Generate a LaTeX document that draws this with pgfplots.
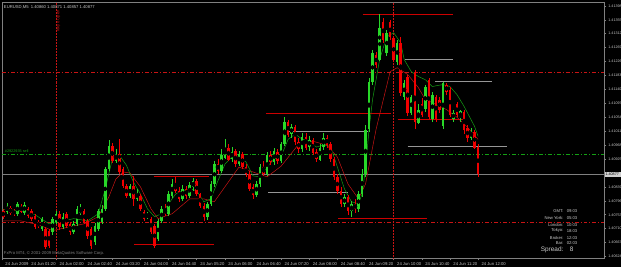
\documentclass[border=0pt]{standalone}
\usepackage{pgfplots}
\pgfplotsset{compat=1.18}
\usepackage{pgfplotstable}
\usepackage{fontspec}
\setmainfont{Liberation Sans}
\definecolor{bull}{RGB}{40,215,40}
\definecolor{bear}{RGB}{240,0,0}
\definecolor{ma1}{RGB}{20,160,20}
\definecolor{ma2}{RGB}{200,20,20}
\definecolor{frame}{RGB}{128,128,128}
\definecolor{txt}{RGB}{200,200,200}
\definecolor{seg}{RGB}{150,150,150}
\pgfplotstableread{
t o h l c
40 1.40753 1.40774 1.40747 1.40765
45 1.40765 1.40771 1.40741 1.40747
50 1.40762 1.40790 1.40756 1.40781
55 1.40774 1.40781 1.40753 1.40759
60 1.40765 1.40771 1.40750 1.40756
65 1.40756 1.40793 1.40750 1.40787
70 1.40781 1.40787 1.40759 1.40762
75 1.40759 1.40793 1.40753 1.40784
80 1.40771 1.40777 1.40744 1.40750
85 1.40765 1.40771 1.40734 1.40741
90 1.40750 1.40756 1.40710 1.40716
95 1.40731 1.40738 1.40713 1.40719
100 1.40710 1.40747 1.40704 1.40741
105 1.40710 1.40716 1.40648 1.40655
110 1.40704 1.40710 1.40652 1.40658
115 1.40701 1.40747 1.40691 1.40741
120 1.40731 1.40765 1.40725 1.40756
125 1.40756 1.40765 1.40707 1.40716
130 1.40716 1.40759 1.40710 1.40747
135 1.40756 1.40762 1.40713 1.40719
140 1.40725 1.40731 1.40691 1.40701
145 1.40701 1.40734 1.40695 1.40725
150 1.40725 1.40781 1.40719 1.40771
155 1.40759 1.40787 1.40753 1.40771
160 1.40765 1.40771 1.40725 1.40731
165 1.40734 1.40741 1.40679 1.40688
170 1.40710 1.40716 1.40648 1.40658
175 1.40670 1.40728 1.40661 1.40719
180 1.40710 1.40771 1.40704 1.40765
185 1.40731 1.40784 1.40725 1.40771
190 1.40771 1.40900 1.40765 1.40894
195 1.40894 1.40986 1.40888 1.40965
200 1.40965 1.40977 1.40913 1.40919
205 1.40919 1.40956 1.40913 1.40940
210 1.40940 1.40986 1.40879 1.40885
215 1.40894 1.40900 1.40836 1.40842
220 1.40842 1.40848 1.40805 1.40811
225 1.40811 1.40848 1.40805 1.40842
230 1.40842 1.40873 1.40781 1.40802
235 1.40802 1.40833 1.40796 1.40823
240 1.40811 1.40817 1.40765 1.40771
245 1.40762 1.40768 1.40734 1.40741
250 1.40747 1.40762 1.40741 1.40756
255 1.40741 1.40747 1.40695 1.40701
260 1.40719 1.40725 1.40652 1.40658
265 1.40679 1.40741 1.40673 1.40734
270 1.40734 1.40781 1.40728 1.40771
275 1.40771 1.40787 1.40750 1.40756
280 1.40756 1.40827 1.40750 1.40817
285 1.40811 1.40863 1.40805 1.40848
290 1.40848 1.40870 1.40820 1.40827
295 1.40827 1.40839 1.40793 1.40802
300 1.40802 1.40845 1.40796 1.40833
305 1.40833 1.40842 1.40802 1.40811
310 1.40811 1.40854 1.40805 1.40845
315 1.40839 1.40866 1.40827 1.40857
320 1.40857 1.40863 1.40811 1.40817
325 1.40817 1.40823 1.40774 1.40781
330 1.40781 1.40790 1.40734 1.40747
335 1.40747 1.40793 1.40738 1.40787
340 1.40787 1.40857 1.40781 1.40848
345 1.40848 1.40919 1.40839 1.40909
350 1.40909 1.40925 1.40879 1.40888
355 1.40888 1.40956 1.40882 1.40940
360 1.40931 1.40986 1.40925 1.40962
365 1.40962 1.40971 1.40919 1.40925
370 1.40925 1.40962 1.40916 1.40949
375 1.40949 1.40956 1.40900 1.40909
380 1.40909 1.40949 1.40903 1.40940
385 1.40940 1.40946 1.40894 1.40900
390 1.40900 1.40909 1.40870 1.40879
395 1.40879 1.40888 1.40827 1.40833
400 1.40839 1.40848 1.40802 1.40814
405 1.40814 1.40857 1.40808 1.40848
410 1.40848 1.40909 1.40839 1.40900
415 1.40900 1.40919 1.40873 1.40879
420 1.40879 1.40946 1.40873 1.40937
425 1.40937 1.40949 1.40906 1.40916
430 1.40916 1.40959 1.40909 1.40949
435 1.40949 1.40956 1.40909 1.40919
440 1.40919 1.40980 1.40913 1.40971
445 1.40971 1.41057 1.40965 1.41041
450 1.41041 1.41048 1.40995 1.41002
455 1.41002 1.41035 1.40992 1.41026
460 1.41026 1.41032 1.40971 1.40980
465 1.40980 1.40992 1.40946 1.40956
470 1.40956 1.41005 1.40949 1.40995
475 1.40995 1.41008 1.40956 1.40962
480 1.40962 1.40998 1.40952 1.40986
485 1.40986 1.40992 1.40937 1.40946
490 1.40946 1.40956 1.40916 1.40925
495 1.40925 1.40971 1.40919 1.40962
500 1.40962 1.41008 1.40956 1.40992
505 1.40992 1.41002 1.40962 1.40971
510 1.40971 1.40980 1.40916 1.40925
515 1.40925 1.40931 1.40860 1.40870
520 1.40870 1.40879 1.40817 1.40827
525 1.40827 1.40839 1.40777 1.40787
530 1.40787 1.40817 1.40777 1.40808
535 1.40808 1.40814 1.40753 1.40765
540 1.40765 1.40796 1.40747 1.40787
545 1.40787 1.40802 1.40759 1.40771
550 1.40771 1.40827 1.40762 1.40817
555 1.40817 1.40894 1.40808 1.40879
560 1.40879 1.41032 1.40870 1.41017
565 1.41017 1.41177 1.41011 1.41164
570 1.41164 1.41262 1.41155 1.41253
575 1.41247 1.41256 1.41207 1.41216
580 1.41232 1.41373 1.41226 1.41330
585 1.41348 1.41361 1.41284 1.41293
590 1.41253 1.41324 1.41244 1.41315
595 1.41348 1.41355 1.41293 1.41302
600 1.41299 1.41305 1.41226 1.41232
605 1.41226 1.41293 1.41216 1.41284
610 1.41284 1.41302 1.41121 1.41130
615 1.41118 1.41170 1.41109 1.41161
620 1.41180 1.41186 1.41057 1.41069
625 1.41069 1.41124 1.41060 1.41118
630 1.41192 1.41201 1.41017 1.41038
635 1.41038 1.41094 1.41032 1.41078
640 1.41094 1.41115 1.41054 1.41063
645 1.41078 1.41155 1.41072 1.41146
650 1.41170 1.41177 1.41048 1.41054
655 1.41048 1.41134 1.41041 1.41124
660 1.41118 1.41124 1.41041 1.41048
665 1.41109 1.41118 1.41069 1.41078
670 1.41026 1.41164 1.41017 1.41161
675 1.41155 1.41161 1.41124 1.41134
680 1.41140 1.41146 1.41054 1.41063
685 1.41048 1.41078 1.41041 1.41069
690 1.41094 1.41100 1.41054 1.41063
695 1.41054 1.41078 1.41041 1.41072
700 1.41072 1.41078 1.41002 1.41017
705 1.41023 1.41032 1.40980 1.40992
710 1.40992 1.41023 1.40986 1.41011
715 1.41011 1.41017 1.40956 1.40962
720 1.40962 1.40971 1.40870 1.40877
}\candles
\pgfplotstableread{
t v
40 1.40771
70 1.40765
90 1.40753
110 1.40725
125 1.40731
145 1.40741
165 1.40734
180 1.40756
190 1.40833
200 1.40925
210 1.40937
220 1.40906
230 1.40854
240 1.40817
250 1.40771
260 1.40747
270 1.40756
280 1.40787
290 1.40817
300 1.40827
310 1.40833
320 1.40827
330 1.40793
340 1.40802
350 1.40857
360 1.40909
370 1.40931
380 1.40931
390 1.40916
400 1.40873
410 1.40870
420 1.40900
430 1.40925
440 1.40934
450 1.40986
460 1.41002
470 1.40986
480 1.40980
490 1.40962
500 1.40968
510 1.40965
520 1.40900
530 1.40833
540 1.40793
550 1.40787
555 1.40817
560 1.40894
565 1.41017
570 1.41109
580 1.41232
590 1.41302
600 1.41315
610 1.41284
615 1.41232
625 1.41195
635 1.41180
645 1.41170
655 1.41149
670 1.41155
680 1.41149
690 1.41124
700 1.41088
715 1.41026
720 1.40995
}\fastma
\pgfplotstableread{
t v
40 1.40734
70 1.40734
95 1.40722
115 1.40704
140 1.40716
160 1.40725
180 1.40747
195 1.40808
205 1.40863
215 1.40885
225 1.40882
240 1.40839
255 1.40771
265 1.40741
285 1.40756
310 1.40802
330 1.40802
345 1.40793
360 1.40839
380 1.40900
400 1.40885
420 1.40870
440 1.40903
465 1.40971
485 1.40980
505 1.40968
520 1.40931
535 1.40848
550 1.40802
560 1.40848
575 1.41017
595 1.41195
605 1.41207
620 1.41186
635 1.41146
645 1.41109
660 1.41094
675 1.41078
690 1.41054
705 1.41023
720 1.40986
}\slowma
\begin{document}
\begin{tikzpicture}[x=1pt,y=1pt]
\fill[black] (0,0) rectangle (625,269);
\begin{axis}[
  at={(2pt,9pt)}, anchor=south west,
  width=606pt, height=258pt, scale only axis,
  xmin=43.1, xmax=899.6, ymin=1.40618, ymax=1.41410,
  axis line style={frame, line width=0.6pt},
  clip=true,
  /pgf/number format/assume math mode=true,
  ytick={1.41398,1.41355,1.41312,1.41269,1.41226,1.41183,1.41140,1.41097,1.41054,1.41011,1.40968,1.40925,1.40839,1.40796,1.40753,1.40710,1.40667,1.40624},
  yticklabels={1.41398,1.41355,1.41312,1.41269,1.41226,1.41183,1.41140,1.41097,1.41054,1.41011,1.40968,1.40925,1.40839,1.40796,1.40753,1.40710,1.40667,1.40624},
  yticklabel pos=right, ytick pos=right,
  tick align=outside, major tick length=2pt,
  tick style={frame, line width=0.5pt},
  yticklabel style={font=\fontsize{3.7}{4}\selectfont, text=txt, anchor=west, xshift=-1.5pt},
  xtick={80,120,...,720},
  extra x ticks={43.1}, extra x tick labels={24 Jun 2009},
  extra x tick style={xticklabel style={anchor=north west, xshift=0pt}},
  xticklabels={24 Jun 01:20,24 Jun 02:00,24 Jun 02:40,24 Jun 03:20,24 Jun 04:00,24 Jun 04:40,24 Jun 05:20,24 Jun 06:00,24 Jun 06:40,24 Jun 07:20,24 Jun 08:00,24 Jun 08:40,24 Jun 09:20,24 Jun 10:00,24 Jun 10:40,24 Jun 11:20,24 Jun 12:00},
  xtick pos=bottom,
  xticklabel style={font=\fontsize{4.2}{5}\selectfont, text=txt, anchor=north west, xshift=0pt, yshift=1.5pt},
]
% full-width lines
\addplot[frame, line width=0.6pt, forget plot] coordinates {(43.1,1.40877) (899.6,1.40877)};
\addplot[ma1, line width=0.6pt, dash pattern=on 4pt off 2pt on 1pt off 2pt, forget plot] coordinates {(43.1,1.40940) (899.6,1.40940)};
\addplot[ma2, line width=0.6pt, dash pattern=on 4pt off 2pt on 1pt off 2pt, forget plot] coordinates {(43.1,1.41192) (899.6,1.41192)};
\addplot[ma2, line width=0.6pt, dash pattern=on 4pt off 2pt on 1pt off 2pt, forget plot] coordinates {(43.1,1.40731) (899.6,1.40731)};
% vertical session lines
\addplot[ma2, line width=0.5pt, densely dotted, forget plot] coordinates {(120,1.40618) (120,1.41410)};
\addplot[ma2, line width=0.5pt, densely dotted, forget plot] coordinates {(600,1.40618) (600,1.41410)};
% level segments
\addplot[bear!85!black, line width=0.7pt, forget plot] coordinates {(556,1.41373) (685,1.41373)};
\addplot[seg, line width=0.7pt, forget plot] coordinates {(616,1.41232) (685,1.41232)};
\addplot[seg, line width=0.7pt, forget plot] coordinates {(659,1.41164) (740,1.41164)};
\addplot[bear!85!black, line width=0.7pt, forget plot] coordinates {(419,1.41066) (596,1.41066)};
\addplot[bear!85!black, line width=0.7pt, forget plot] coordinates {(606,1.41048) (698,1.41048)};
\addplot[seg, line width=0.7pt, forget plot] coordinates {(450,1.41011) (563,1.41011)};
\addplot[seg, line width=0.7pt, forget plot] coordinates {(620,1.40965) (761,1.40965)};
\addplot[bear!85!black, line width=0.7pt, forget plot] coordinates {(259,1.40870) (337,1.40870)};
\addplot[seg, line width=0.7pt, forget plot] coordinates {(422,1.40823) (535,1.40823)};
\addplot[bear!85!black, line width=0.7pt, forget plot] coordinates {(521,1.40741) (648,1.40741)};
\addplot[bear!85!black, line width=0.7pt, forget plot] coordinates {(231,1.40661) (344,1.40661)};
% moving averages
\addplot[ma2, line width=0.5pt, forget plot] table[x=t, y=v] {\slowma};
\addplot[ma1, line width=0.5pt, forget plot] table[x=t, y=v] {\fastma};
% candles: wicks and bodies
\addplot[only marks, mark=none, forget plot, error bars/.cd, y dir=both, y explicit, error mark=none, error bar style={line width=0.5pt, bull}]
  table[x=t, y expr={\thisrow{c}>=\thisrow{o} ? (\thisrow{h}+\thisrow{l})/2 : nan}, y error expr=(\thisrow{h}-\thisrow{l})/2] {\candles};
\addplot[only marks, mark=none, forget plot, error bars/.cd, y dir=both, y explicit, error mark=none, error bar style={line width=2.5pt, bull}]
  table[x=t, y expr={\thisrow{c}>=\thisrow{o} ? (\thisrow{o}+\thisrow{c})/2 : nan}, y error expr={max(abs(\thisrow{c}-\thisrow{o})/2,0.000012)}] {\candles};
\addplot[only marks, mark=none, forget plot, error bars/.cd, y dir=both, y explicit, error mark=none, error bar style={line width=0.5pt, bear}]
  table[x=t, y expr={\thisrow{c}<\thisrow{o} ? (\thisrow{h}+\thisrow{l})/2 : nan}, y error expr=(\thisrow{h}-\thisrow{l})/2] {\candles};
\addplot[only marks, mark=none, forget plot, error bars/.cd, y dir=both, y explicit, error mark=none, error bar style={line width=2.5pt, bear}]
  table[x=t, y expr={\thisrow{c}<\thisrow{o} ? (\thisrow{o}+\thisrow{c})/2 : nan}, y error expr={max(abs(\thisrow{c}-\thisrow{o})/2,0.000012)}] {\candles};
% texts
\node[anchor=north west, font=\fontsize{4.2}{5}\selectfont, text=txt, inner sep=0pt] at (rel axis cs:0.003,0.985) {EURUSD,M5\ \ 1.40860 1.40871 1.40857 1.40877};
\node[anchor=south west, font=\fontsize{4.2}{5}\selectfont, text=frame, inner sep=0pt] at (rel axis cs:0.003,0.012) {FxPro MT4, \textcopyright\ 2001-2009 MetaQuotes Software Corp.};
\node[rotate=90, anchor=east, font=\fontsize{4.2}{5}\selectfont, text=ma2, inner sep=0pt] at (axis cs:123,1.41385) {Tokyo Open};
\node[anchor=south west, font=\fontsize{3.8}{4}\selectfont, text=ma1, inner sep=0pt] at (axis cs:47,1.40945) {\#2922935 sell};
\end{axis}
% current price label
\fill[txt!85] (608.5,91) rectangle (625,96);
\node[font=\fontsize{3.7}{4}\selectfont, text=black, anchor=west, inner sep=0pt] at (609,93.5) {1.40877};
% info panel
\begin{scope}[font=\fontsize{4.2}{5}\selectfont, inner sep=0pt]
\node[anchor=east, text=txt] at (567,57) {GMT:};
\node[anchor=east, text=txt] at (567,50) {New York:};
\node[anchor=east, text=txt] at (567,43) {London:};
\node[anchor=east, text=txt] at (567,37) {Tokyo:};
\node[anchor=east, text=txt] at (567,30) {Broker:};
\node[anchor=east, text=txt] at (567,24) {Bar:};
\node[anchor=west, text=txt] at (570,57) {09:03};
\node[anchor=west, text=txt] at (570,50) {05:03};
\node[anchor=west, text=txt] at (570,43) {10:03};
\node[anchor=west, text=txt] at (570,37) {18:03};
\node[anchor=west, text=txt] at (570,30) {12:03};
\node[anchor=west, text=txt] at (570,24) {02:03};
\node[anchor=east, text=txt, font=\fontsize{6.5}{7}\selectfont] at (567,18) {Spread:};
\node[anchor=west, text=txt, font=\fontsize{6.5}{7}\selectfont] at (573,18) {8};
\end{scope}
\end{tikzpicture}
\end{document}
